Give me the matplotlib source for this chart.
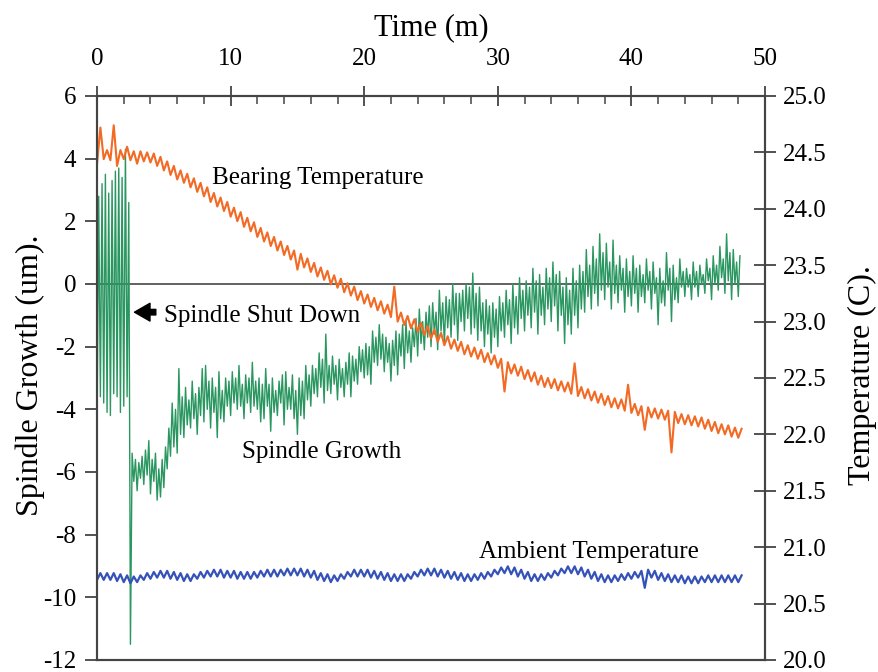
import matplotlib
matplotlib.use("Agg")
import matplotlib.pyplot as plt
import numpy as np

plt.rcParams['font.family'] = ['Liberation Serif', 'DejaVu Serif']
plt.rcParams['axes.unicode_minus'] = False

# time grids (minutes)
time_fine = np.arange(0, 48.01, 0.25)   # spindle growth samples
time_min = np.arange(0, 48.01, 0.5)     # temperature samples

# spindle growth (um): low / high of each noisy sample, every 0.25 min
growth_lo = [-4.5, -3.6, -3.8, -4.1, -4.2, -3.5, -3.6, -4.1, -3.9, -3.6,
             -11.5, -6.3, -6.6, -6.2, -6.4, -6.1, -6.7, -6.3, -6.9, -6.8,
             -6.5, -5.9, -5.5, -5.2, -5.4, -4.8, -4.9, -4.5, -4.6, -4.3,
             -4.8, -4.2, -4.4, -4.0, -4.6, -4.1, -4.9, -4.3, -4.4, -3.9,
             -4.2, -3.8, -4.0, -3.9, -4.3, -3.8, -4.1, -3.9, -4.0, -4.4,
             -4.3, -3.9, -4.7, -4.1, -4.2, -3.8, -4.5, -4.0, -4.0, -4.3,
             -4.8, -4.2, -4.3, -3.7, -3.9, -3.5, -3.6, -3.3, -3.8, -3.4,
             -3.5, -3.2, -3.7, -3.3, -3.6, -3.2, -3.6, -3.1, -3.2, -2.8,
             -3.0, -2.9, -3.2, -2.5, -2.6, -2.4, -2.8, -2.5, -3.1, -2.6,
             -2.9, -2.3, -2.7, -2.2, -2.5, -2.0, -2.3, -1.9, -2.1, -1.7,
             -2.0, -1.6, -2.1, -1.5, -1.9, -1.4, -1.7, -1.3, -1.8, -1.2,
             -1.5, -1.1, -1.6, -1.4, -1.8, -1.5, -2.0, -1.6, -2.2, -1.7,
             -2.0, -1.5, -1.7, -1.3, -1.9, -1.4, -1.6, -1.1, -1.5, -1.0,
             -1.4, -0.9, -1.6, -1.0, -1.3, -0.8, -1.2, -0.7, -1.5, -1.0,
             -1.9, -1.3, -1.6, -1.0, -1.4, -0.8, -0.9, -0.4, -0.8, -0.3,
             -0.7, -0.2, -0.5, -0.1, -0.8, -0.3, -0.6, -0.2, -0.9, -0.4,
             -0.7, -0.3, -0.9, -0.4, -0.6, -0.2, -0.8, -0.3, -1.3, -0.6,
             -0.7, -0.2, -1.2, -0.5, -0.6, -0.1, -0.4, -0.1, -0.5, -0.1,
             -0.4, 0.0, -0.3, 0.1, -0.5, 0.0, -0.2, 0.2, -0.3, 0.1,
             -0.5, 0.0, -0.4]
growth_hi = [2.8, 3.2, 3.5, 2.9, 3.3, 3.6, 3.7, 3.4, 4.3, 2.6,
             -5.4, -5.6, -5.7, -5.5, -5.3, -5.0, -5.6, -5.4, -5.9, -5.6,
             -5.2, -4.6, -3.8, -4.0, -2.7, -3.6, -3.3, -3.7, -3.1, -3.5,
             -3.3, -2.7, -2.6, -3.1, -3.0, -3.3, -2.8, -3.4, -3.0, -3.1,
             -2.8, -3.0, -2.6, -3.2, -2.9, -3.0, -2.5, -3.1, -3.0, -3.2,
             -2.7, -3.2, -3.0, -3.4, -3.1, -2.9, -2.8, -3.3, -2.9, -3.4,
             -3.0, -3.1, -2.6, -2.9, -2.6, -2.7, -2.2, -2.4, -1.6, -2.6,
             -2.3, -2.6, -2.4, -2.7, -2.5, -2.2, -2.3, -2.4, -2.0, -2.1,
             -1.9, -2.0, -1.5, -1.7, -1.3, -1.6, -1.7, -1.9, -1.8, -1.5,
             -1.6, -1.3, -1.2, -1.5, -1.4, -1.1, -0.8, -1.2, -0.9, -0.7,
             -0.6, -0.9, -0.2, -0.6, -0.4, -0.5, 0.0, -0.3, -0.3, -0.2,
             0.0, -0.1, 0.35, -0.3, -0.1, -0.6, -0.5, -0.7, -0.6, -0.8,
             -0.4, -0.6, -0.2, -0.5, 0.0, -0.4, 0.2, -0.2, 0.1, -0.1,
             0.5, 0.1, 0.3, -0.1, 0.5, 0.2, 0.7, 0.3, 0.4, -0.1,
             0.2, -0.2, 0.5, 0.1, 0.6, 0.4, 1.1, 0.6, 1.2, 0.8,
             1.6, 1.0, 1.3, 0.7, 1.4, 0.6, 0.9, 0.5, 0.8, 0.4,
             0.9, 0.5, 0.6, 0.3, 0.8, 0.4, 0.7, 0.2, 0.5, 0.1,
             1.0, 0.5, 0.6, 0.2, 0.8, 0.4, 0.5, 0.3, 0.7, 0.4,
             0.6, 0.3, 0.8, 0.5, 0.9, 0.6, 1.2, 0.8, 1.6, 1.0,
             1.1, 0.7, 0.9]

# bearing temperature (C), every 0.5 min
bearing_lo = [24.40, 24.44, 24.43, 24.38, 24.44, 24.43, 24.40, 24.42, 24.41, 24.38,
              24.34, 24.30, 24.26, 24.23, 24.19, 24.15, 24.11, 24.06, 24.02, 23.98,
              23.93, 23.89, 23.84, 23.80, 23.75, 23.71, 23.67, 23.63, 23.59, 23.55,
              23.46, 23.48, 23.44, 23.40, 23.37, 23.33, 23.30, 23.26, 23.23, 23.19,
              23.16, 23.13, 23.10, 23.07, 23.04, 23.00, 22.97, 22.94, 22.91, 22.88,
              22.85, 22.82, 22.79, 22.76, 22.74, 22.71, 22.69, 22.67, 22.64, 22.62,
              22.59, 22.38, 22.54, 22.52, 22.49, 22.47, 22.44, 22.42, 22.41, 22.39,
              22.38, 22.36, 22.34, 22.32, 22.30, 22.28, 22.26, 22.24, 22.23, 22.21,
              22.19, 22.17, 22.04, 22.15, 22.14, 22.13, 21.84, 22.10, 22.09, 22.08,
              22.07, 22.05, 22.03, 22.01, 22.00, 21.98, 21.97]
bearing_hi = [24.72, 24.52, 24.74, 24.52, 24.55, 24.51, 24.51, 24.50, 24.49, 24.46,
              24.42, 24.38, 24.34, 24.31, 24.27, 24.23, 24.19, 24.14, 24.10, 24.06,
              24.01, 23.97, 23.92, 23.88, 23.83, 23.79, 23.75, 23.71, 23.67, 23.63,
              23.60, 23.56, 23.52, 23.48, 23.45, 23.41, 23.38, 23.34, 23.31, 23.27,
              23.24, 23.21, 23.18, 23.15, 23.31, 23.08, 23.05, 23.02, 22.99, 22.96,
              22.93, 22.90, 22.87, 22.84, 22.82, 22.79, 22.77, 22.75, 22.72, 22.70,
              22.67, 22.64, 22.62, 22.60, 22.57, 22.55, 22.52, 22.50, 22.49, 22.47,
              22.46, 22.63, 22.42, 22.40, 22.38, 22.36, 22.34, 22.32, 22.31, 22.44,
              22.27, 22.25, 22.24, 22.23, 22.22, 22.21, 22.20, 22.18, 22.17, 22.16,
              22.15, 22.13, 22.11, 22.09, 22.08, 22.06, 22.05]

# ambient temperature (C), every 0.5 min
ambient_lo = [20.71, 20.71, 20.71, 20.70, 20.69, 20.68, 20.69, 20.71, 20.72, 20.73,
              20.73, 20.72, 20.71, 20.70, 20.70, 20.72, 20.73, 20.74, 20.74, 20.73,
              20.73, 20.72, 20.72, 20.72, 20.73, 20.74, 20.74, 20.74, 20.75, 20.75,
              20.75, 20.74, 20.73, 20.71, 20.70, 20.69, 20.70, 20.72, 20.74, 20.74,
              20.74, 20.73, 20.72, 20.71, 20.70, 20.70, 20.70, 20.72, 20.74, 20.75,
              20.75, 20.74, 20.73, 20.72, 20.71, 20.70, 20.70, 20.71, 20.72, 20.74,
              20.76, 20.77, 20.76, 20.74, 20.72, 20.70, 20.70, 20.71, 20.73, 20.75,
              20.77, 20.77, 20.76, 20.74, 20.72, 20.70, 20.69, 20.69, 20.70, 20.71,
              20.72, 20.73, 20.64, 20.73, 20.71, 20.70, 20.69, 20.69, 20.68, 20.68,
              20.68, 20.69, 20.69, 20.69, 20.69, 20.69, 20.69]
ambient_hi = [20.77, 20.77, 20.77, 20.76, 20.75, 20.74, 20.75, 20.77, 20.78, 20.79,
              20.79, 20.78, 20.77, 20.76, 20.76, 20.78, 20.79, 20.80, 20.80, 20.79,
              20.79, 20.78, 20.78, 20.78, 20.79, 20.80, 20.80, 20.80, 20.81, 20.81,
              20.81, 20.80, 20.79, 20.77, 20.76, 20.75, 20.76, 20.78, 20.80, 20.80,
              20.80, 20.79, 20.78, 20.77, 20.76, 20.76, 20.76, 20.78, 20.80, 20.81,
              20.81, 20.80, 20.79, 20.78, 20.77, 20.76, 20.76, 20.77, 20.78, 20.80,
              20.82, 20.83, 20.82, 20.80, 20.78, 20.76, 20.76, 20.77, 20.79, 20.81,
              20.83, 20.83, 20.82, 20.80, 20.78, 20.76, 20.75, 20.75, 20.76, 20.77,
              20.78, 20.79, 20.80, 20.79, 20.77, 20.76, 20.75, 20.75, 20.74, 20.74,
              20.74, 20.75, 20.75, 20.75, 20.75, 20.75, 20.75]

green = '#2a9660'
orange = '#f26a24'
blue = '#3552b8'
spine_col = '#444444'


def zigzag(t, lo, hi):
    # each sample drawn as a low then a high reading, half a step apart
    step = t[1] - t[0]
    x = np.column_stack([t, t + step / 2]).ravel()
    y = np.column_stack([lo, hi]).ravel()
    return x, y


fig = plt.figure(figsize=(8.79, 6.72), dpi=100)
ax = fig.add_axes([0.1104, 0.0179, 0.7599, 0.8393])
ax2 = ax.twinx()

ax.axhline(0, color='#555555', lw=1.3, zorder=1)

gx, gy = zigzag(time_fine, growth_lo, growth_hi)
ax.plot(gx, gy, color=green, lw=1.0, zorder=2)

bx, by = zigzag(time_min, bearing_lo, bearing_hi)
ax2.plot(bx, by, color=orange, lw=1.5)
ax_x, ay = zigzag(time_min, ambient_lo, ambient_hi)
ax2.plot(ax_x, ay, color=blue, lw=1.6)

ax.set_xlim(0, 50)
ax.set_ylim(-12, 6)
ax2.set_ylim(20, 25)

ax.xaxis.tick_top()
ax.xaxis.set_label_position('top')
ax.set_xticks(np.arange(0, 51, 10))
ax.set_xticks(np.arange(0, 51, 2), minor=True)
ax.set_yticks(np.arange(-12, 7, 2))
ax2.set_yticks(np.arange(20, 25.01, 0.5))
ax2.set_yticklabels([f"{v:.1f}" for v in np.arange(20, 25.01, 0.5)])

ax.tick_params(axis='x', which='major', direction='inout', length=15, width=1.3,
               color=spine_col, labelsize=18, pad=11)
ax.tick_params(axis='x', which='minor', direction='in', length=6, width=1.1, color=spine_col)
ax.tick_params(axis='y', direction='out', length=9, width=1.3, color=spine_col,
               labelsize=18, pad=6)
ax2.tick_params(axis='y', direction='inout', length=16, width=1.3, color=spine_col,
                labelsize=18, pad=5)

for a in (ax, ax2):
    for s in a.spines.values():
        s.set_color(spine_col)
        s.set_linewidth(1.5)

ax.set_xlabel('Time (m)', fontsize=22)
ax.set_ylabel('Spindle Growth (um).', fontsize=23)
ax2.set_ylabel('Temperature (C).', fontsize=23)
ax.xaxis.set_label_coords(0.5, 1.108)
ax.yaxis.set_label_coords(-0.078, 0.505)
ax2.yaxis.set_label_coords(1.124, 0.505)

ax.text(8.6, 3.2, 'Bearing Temperature', fontsize=18, va='baseline')
ax.text(10.85, -5.55, 'Spindle Growth', fontsize=18, va='baseline')
ax.text(28.6, -8.75, 'Ambient Temperature', fontsize=18, va='baseline')
ax.text(5.0, -1.2, 'Spindle Shut Down', fontsize=18, va='baseline')
ax.annotate('', xy=(2.8, -0.9), xytext=(4.4, -0.9),
            arrowprops=dict(arrowstyle='simple,head_length=0.7,head_width=0.8,tail_width=0.25',
                            color='black', mutation_scale=16, shrinkA=0, shrinkB=0))

fig.savefig('out.png', dpi=100)
